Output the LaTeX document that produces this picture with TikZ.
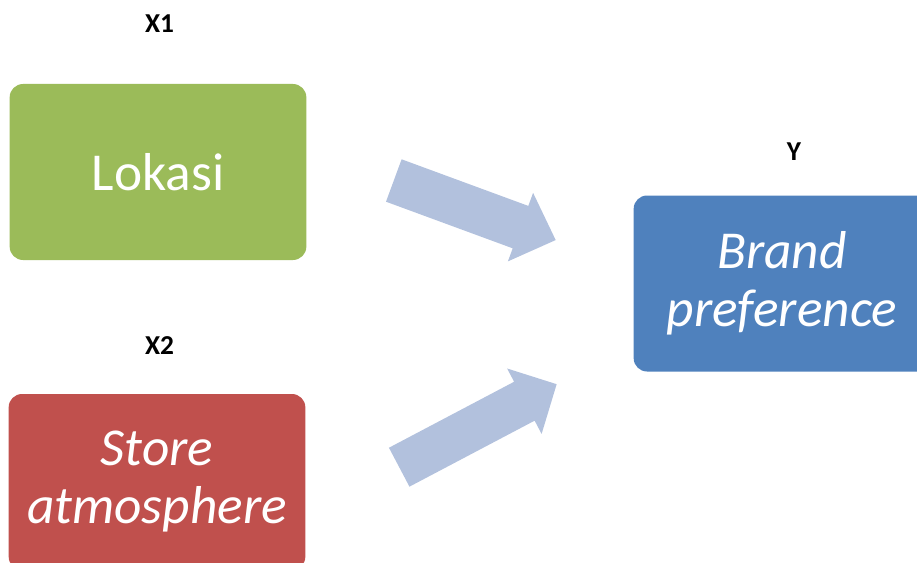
\documentclass[tikz,border=0pt]{standalone}
\usepackage{fontspec}
\setmainfont{Carlito}
\definecolor{boxgreen}{HTML}{9BBB59}
\definecolor{boxred}{HTML}{C0504D}
\definecolor{boxblue}{HTML}{4F81BD}
\definecolor{arrowblue}{HTML}{B2C1DD}
\begin{document}
\begin{tikzpicture}[x=0.75pt,y=-0.75pt,
  varbox/.style={rounded corners=10pt, inner sep=0pt, minimum width=222.5pt,
    minimum height=132pt, text=white, align=center,
    font=\fontsize{40}{43.5}\selectfont},
  varlabel/.style={anchor=base, inner sep=0pt, font=\fontsize{20.5}{24}\selectfont\bfseries},
  blockarrow/.style={fill=arrowblue}]
\useasboundingbox (0,0) rectangle (917,563);
\clip (0,0) rectangle (917,563);
% boxes
\node[varbox, fill=boxgreen] (lokasi) at (158,172) {Lokasi};
\node[varbox, fill=boxred] (store) at (157,482) {\itshape Store\\\itshape atmosphere};
\node[varbox, fill=boxblue] (brand) at (782,283.5) {\itshape Brand\\\itshape preference};
% labels
\node[varlabel] (x1) at (159.5,32.7) {X1};
\node[varlabel] (x2) at (159.5,354.5) {X2};
\node[varlabel] (y) at (794,161) {Y};
% block arrows
\fill[blockarrow, shift={(393.8,180.5)}, rotate=-20.2]
  (0,-22.6) -- (135,-22.6) -- (135,-36.5) -- (172.5,0) -- (135,36.5) -- (135,22.6) -- (0,22.6) -- cycle;
\fill[blockarrow, shift={(399.2,467.2)}, rotate=27.8]
  (0,-22) -- (141.5,-22) -- (141.5,-37) -- (178,0) -- (141.5,37) -- (141.5,22) -- (0,22) -- cycle;
\end{tikzpicture}
\end{document}
